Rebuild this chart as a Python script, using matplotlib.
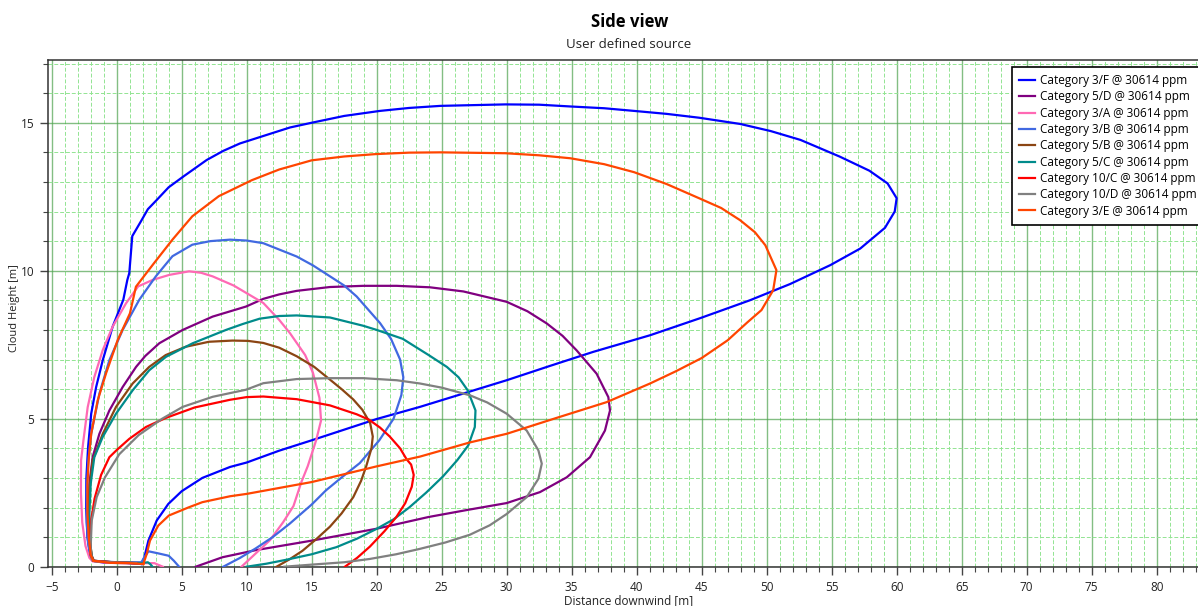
import matplotlib
matplotlib.use("Agg")
import matplotlib.pyplot as plt
from matplotlib.ticker import MultipleLocator

plt.rcParams['font.family'] = ['Open Sans', 'DejaVu Sans']

# Cloud outline traces (distance downwind [m], cloud height [m])
labels = [
    "Category 3/F @ 30614 ppm",
    "Category 5/D @ 30614 ppm",
    "Category 3/A @ 30614 ppm",
    "Category 3/B @ 30614 ppm",
    "Category 5/B @ 30614 ppm",
    "Category 5/C @ 30614 ppm",
    "Category 10/C @ 30614 ppm",
    "Category 10/D @ 30614 ppm",
    "Category 3/E @ 30614 ppm",
]
colors = ["#0000ff", "#800080", "#ff69b4", "#4169e1", "#8b4513",
          "#008b8b", "#ff0000", "#808080", "#ff4500"]

x_3F = [1.92, 2.13, 2.44, 3.08, 3.97, 5.0, 6.59, 8.72, 10.0, 12.5, 15.0, 17.5, 20.0, 23.33,
        27.18, 30.0, 33.3, 36.67, 41.03, 44.9, 48.7, 51.8, 54.9, 57.2, 59.1, 59.85, 60.0,
        59.3, 57.9, 55.6, 52.6, 50.3, 47.95, 44.8, 42.3, 39.8, 37.5, 34.9, 32.5, 29.9, 24.9,
        22.5, 20.25, 17.5, 15.0, 13.33, 9.48, 8.2, 6.92, 5.12, 4.0, 3.08, 2.4, 1.92, 1.2,
        0.97, 0.82, 0.51, -0.31, -1.07, -1.58, -1.96, -2.2, -2.33, -2.35, -2.25, -2.05,
        -1.85, -1.0, 0.0, 1.0, 1.92]
y_3F = [0.09, 0.32, 0.88, 1.56, 2.12, 2.55, 3.0, 3.37, 3.52, 3.92, 4.27, 4.63, 4.99, 5.40,
        5.92, 6.30, 6.78, 7.26, 7.82, 8.4, 9.0, 9.55, 10.19, 10.75, 11.45, 12.0, 12.45,
        12.95, 13.38, 13.86, 14.42, 14.72, 14.96, 15.17, 15.3, 15.4, 15.49, 15.55, 15.61,
        15.62, 15.57, 15.5, 15.4, 15.23, 15.0, 14.84, 14.3, 14.05, 13.74, 13.18, 12.82,
        12.39, 12.08, 11.71, 11.17, 9.92, 9.69, 9.02, 8.11, 6.98, 6.07, 5.17, 4.04, 3.0,
        2.0, 1.0, 0.4, 0.2, 0.14, 0.15, 0.12, 0.09]

x_5D = [6.08, 8.14, 10.71, 15.0, 19.96, 24.0, 27.0, 30.0, 32.56, 34.62, 36.41, 37.56, 37.95,
        37.82, 36.92, 35.38, 34.3, 33.08, 31.6, 30.0, 26.67, 24.1, 21.54, 18.97, 16.41,
        13.85, 12.5, 11.28, 9.95, 7.38, 5.08, 3.28, 2.2, 1.49, 0.46, -0.56, -1.33, -1.85,
        -2.1, -2.15, -2.1, -1.95, -1.8, -0.5, 1.0, 1.9]
y_5D = [0.0, 0.32, 0.56, 0.88, 1.28, 1.68, 1.92, 2.15, 2.52, 3.02, 3.70, 4.60, 5.28,
        5.73, 6.52, 7.31, 7.8, 8.22, 8.63, 8.95, 9.30, 9.44, 9.49, 9.49, 9.45,
        9.32, 9.2, 9.05, 8.79, 8.45, 8.0, 7.55, 7.12, 6.75, 6.07, 5.28, 4.49, 3.70,
        2.8, 1.8, 1.0, 0.4, 0.2, 0.13, 0.12, 0.1]

x_3A = [9.6, 10.7, 11.8, 12.8, 13.6, 14.2, 14.7, 15.35, 15.72, 15.6, 15.1, 14.5, 13.33,
        12.5, 11.28, 9.0, 7.38, 6.5, 5.57, 4.05, 2.77, 1.65, 0.72, -0.31, -1.07, -1.72,
        -2.23, -2.56, -2.74, -2.75, -2.65, -2.4, -2.1, -1.85, -0.5, 1.0, 2.0, 2.9, 3.55]
y_3A = [0.0, 0.45, 0.9, 1.5, 2.05, 2.85, 3.4, 4.28, 4.94, 5.7, 6.55, 7.15, 7.89,
        8.34, 8.91, 9.5, 9.81, 9.93, 9.98, 9.86, 9.69, 9.47, 8.9, 8.11, 7.32, 6.41,
        5.39, 4.26, 3.59, 2.5, 1.5, 0.7, 0.3, 0.18, 0.13, 0.12, 0.12, 0.12, 0.0]

x_3B = [8.2, 9.5, 10.7, 12.0, 13.3, 15.0, 16.1, 17.4, 18.7, 20.2, 21.3, 21.9, 22.05, 21.8,
        21.1, 20.26, 18.46, 17.5, 16.41, 15.1, 13.85, 11.28, 10.0, 8.72, 7.2, 5.82, 4.29,
        3.01, 1.74, 0.46, -0.56, -1.33, -1.96, -2.2, -2.3, -2.3, -2.2, -2.0, -1.8, 0.0,
        1.9, 2.1, 2.45, 3.2, 4.0, 4.4, 4.8]
y_3B = [0.0, 0.3, 0.62, 1.0, 1.45, 2.1, 2.58, 3.05, 3.5, 4.27, 5.0, 5.8, 6.4, 7.0,
        7.7, 8.23, 9.13, 9.5, 9.81, 10.18, 10.48, 10.93, 11.02, 11.05, 11.0, 10.88, 10.49,
        9.81, 9.02, 8.0, 6.98, 5.85, 4.49, 3.5, 2.5, 1.5, 0.8, 0.35, 0.2, 0.15,
        0.15, 0.3, 0.52, 0.45, 0.37, 0.2, 0.0]

x_5B = [12.3, 13.3, 14.3, 15.4, 16.4, 17.3, 18.2, 18.8, 19.2, 19.6, 19.7, 19.5, 18.9,
        18.2, 17.3, 16.41, 15.2, 13.85, 12.5, 11.28, 10.1, 8.9, 7.1, 5.3, 3.77, 2.5, 1.23,
        -0.05, -1.07, -1.85, -2.1, -2.15, -2.05, -1.9, -1.75, 0.0, 1.9]
y_5B = [0.0, 0.25, 0.54, 0.95, 1.35, 1.8, 2.35, 2.9, 3.4, 4.0, 4.4, 4.85, 5.3,
        5.65, 6.0, 6.32, 6.75, 7.11, 7.4, 7.56, 7.63, 7.64, 7.6, 7.43, 7.15, 6.75, 6.19,
        5.40, 4.49, 3.59, 2.6, 1.6, 0.8, 0.35, 0.2, 0.14, 0.12]

x_5C = [10.0, 11.5, 13.0, 15.0, 16.9, 18.5, 20.0, 21.3, 22.5, 23.8, 25.1, 26.2, 27.05,
        27.55, 27.6, 27.0, 26.3, 25.4, 24.0, 22.0, 20.0, 18.97, 16.41, 13.85, 12.5,
        11.0, 9.7, 8.41, 5.85, 3.79, 2.51, 1.23, -0.05, -1.08, -1.72, -2.0, -2.1, -2.05,
        -1.95, -1.8, 0.0, 1.9, 2.4, 2.6, 2.75]
y_5C = [0.0, 0.1, 0.23, 0.42, 0.66, 0.95, 1.28, 1.6, 2.0, 2.5, 3.05, 3.6, 4.1,
        4.72, 5.28, 5.96, 6.4, 6.75, 7.15, 7.7, 8.0, 8.14, 8.42, 8.49, 8.47,
        8.38, 8.2, 8.0, 7.55, 7.09, 6.64, 5.96, 5.17, 4.38, 3.70, 2.8, 1.8, 1.0,
        0.4, 0.2, 0.14, 0.12, 0.15, 0.08, 0.0]

x_10C = [17.56, 18.5, 19.48, 20.6, 21.5, 22.2, 22.7, 22.85, 22.65, 22.3, 21.8, 21.0,
         20.26, 19.4, 18.46, 16.41, 13.85, 11.28, 10.0, 8.72, 6.0, 3.8, 2.25, 0.97, 0.0,
         -0.56, -1.2, -1.7, -1.95, -2.05, -2.0, -1.8, 0.0, 1.5]
y_10C = [0.0, 0.3, 0.68, 1.2, 1.67, 2.15, 2.7, 3.1, 3.45, 3.63, 4.0, 4.4,
         4.7, 4.97, 5.15, 5.45, 5.66, 5.75, 5.73, 5.64, 5.38, 5.03, 4.72, 4.32, 3.94,
         3.70, 3.1, 2.3, 1.6, 1.0, 0.4, 0.2, 0.14, 0.12]

x_10D = [12.9, 15.0, 17.5, 19.45, 21.5, 23.3, 25.3, 27.17, 28.7, 30.0, 31.54, 32.44,
         32.7, 32.44, 31.54, 30.0, 28.5, 27.18, 25.0, 23.33, 21.54, 18.97, 16.41, 13.85,
         11.28, 9.95, 7.38, 5.08, 3.5, 1.7, 0.2, -0.9, -1.54, -1.92, -2.0, -1.92, -1.7,
         0.0, 1.5]
y_10D = [0.0, 0.07, 0.15, 0.26, 0.42, 0.6, 0.82, 1.08, 1.4, 1.78, 2.35, 2.97,
         3.48, 3.93, 4.6, 5.17, 5.55, 5.79, 6.05, 6.19, 6.30, 6.37, 6.37, 6.34,
         6.2, 5.98, 5.74, 5.40, 5.0, 4.45, 3.8, 3.02, 2.35, 1.56, 0.65, 0.25, 0.18,
         0.14, 0.12]

x_3E = [2.05, 2.31, 2.56, 3.2, 4.02, 5.51, 6.59, 8.72, 10.0, 15.0, 20.0, 23.33, 27.18,
        30.0, 34.0, 37.69, 41.03, 43.0, 45.0, 47.0, 48.5, 49.6, 50.5, 50.75, 49.9, 49.1,
        47.95, 46.5, 44.8, 42.3, 39.8, 37.5, 34.9, 32.5, 29.9, 24.9, 22.5, 19.9, 17.5,
        15.0, 12.5, 10.4, 7.86, 5.82, 4.29, 2.88, 1.48, 1.02, 0.08, -0.82, -1.46, -1.96,
        -2.14, -2.25, -2.25, -2.15, -2.0, -1.8, -0.5, 1.0, 2.05]
y_3E = [0.09, 0.43, 0.88, 1.39, 1.73, 2.0, 2.18, 2.38, 2.46, 2.86, 3.39, 3.72, 4.2,
        4.49, 5.05, 5.56, 6.19, 6.6, 7.05, 7.65, 8.25, 8.67, 9.34, 10.02, 10.86, 11.3,
        11.71, 12.12, 12.45, 12.93, 13.33, 13.6, 13.8, 13.9, 13.97, 14.0, 13.99, 13.94, 13.86,
        13.73, 13.42, 13.06, 12.52, 11.84, 11.05, 10.26, 9.46, 8.56, 7.66, 6.53, 5.62, 4.49,
        3.70, 2.8, 1.8, 1.0, 0.4, 0.2, 0.13, 0.12, 0.09]

xs = [x_3F, x_5D, x_3A, x_3B, x_5B, x_5C, x_10C, x_10D, x_3E]
ys = [y_3F, y_5D, y_3A, y_3B, y_5B, y_5C, y_10C, y_10D, y_3E]

W, H = 1198, 606
fig = plt.figure(figsize=(W / 100, H / 100), dpi=100)
left_px, right_px, top_px, bottom_px = 48.3, 1211.0, 60.0, 566.7
ax = fig.add_axes([left_px / W, 1 - bottom_px / H,
                   (right_px - left_px) / W, (bottom_px - top_px) / H])

for xv, yv, c, lab in zip(xs, ys, colors, labels):
    ax.plot(xv, yv, color=c, lw=1.6, label=lab, solid_joinstyle='round', zorder=3)

ax.set_xlim(-5.26, 84.18)
ax.set_ylim(0, 17.12)
ax.xaxis.set_major_locator(MultipleLocator(5))
ax.xaxis.set_minor_locator(MultipleLocator(1))
ax.yaxis.set_major_locator(MultipleLocator(5))
ax.yaxis.set_minor_locator(MultipleLocator(1))

ax.grid(which='major', color='#4fa34f', lw=1.0, alpha=0.7, zorder=1)
ax.grid(which='minor', color='#92e492', lw=0.7, ls=(0, (4, 2)), zorder=1)
ax.set_axisbelow(True)

for s in ax.spines.values():
    s.set_color('#333333')
    s.set_linewidth(1.1)

ax.tick_params(which='major', direction='out', length=6, width=1, color='#444444',
               labelsize=8.5, labelcolor='#222222', pad=4)
ax.tick_params(which='minor', direction='out', length=3.5, width=0.8, color='#444444')

leg = ax.legend(loc='upper right', borderaxespad=0.6, fontsize=8.5, frameon=True,
                fancybox=False, framealpha=1, edgecolor='black', handlelength=1.3,
                handletextpad=0.45, labelspacing=0.28, borderpad=0.6)
leg.get_frame().set_linewidth(1.2)

fig.text(630 / W, 1 - 22 / H, "Side view", ha='center', va='center',
         fontsize=12, fontweight='bold', color='black')
fig.text(629 / W, 1 - 45 / H, "User defined source", ha='center', va='center',
         fontsize=9.5, color='#222222')
fig.text(629 / W, 1 - 601 / H, "Distance downwind [m]", ha='center', va='center',
         fontsize=8.5, color='#222222')
fig.text(15 / W, 1 - 308 / H, "Cloud Height [m]", ha='center', va='center',
         rotation=90, fontsize=8, color='#222222')

fig.savefig("out.png", dpi=100, facecolor='white')
